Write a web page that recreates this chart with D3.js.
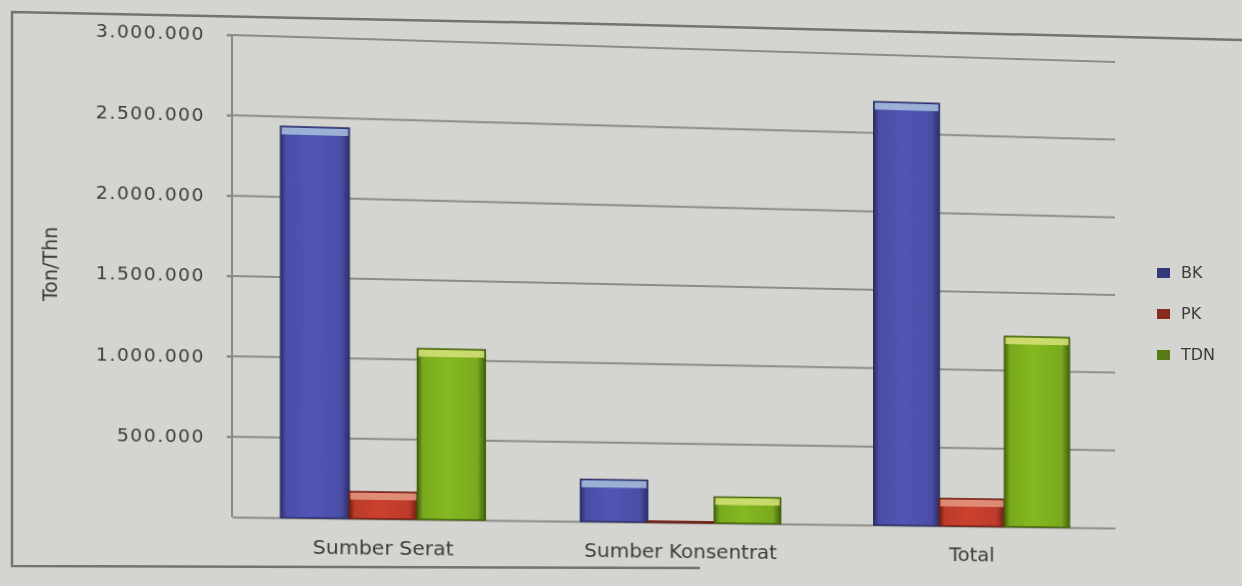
<!DOCTYPE html>
<html>
<head>
<meta charset="utf-8">
<script src="https://cdn.jsdelivr.net/npm/d3@7"></script>
<style>
  html, body { margin: 0; padding: 0; background: #d4d4d0; overflow: hidden; }
  #wrap { position: relative; width: 1242px; height: 586px; }
  #wrap svg { position: absolute; left: 0; top: 0; }
  text { font-family: "DejaVu Sans", Verdana, sans-serif; fill: #3c3c3c; }
</style>
</head>
<body>
<div id="wrap"></div>
<script>
// Produksi pakan: bahan kering (BK), protein kasar (PK), TDN per sumber pakan
const categories = ["Sumber Serat", "Sumber Konsentrat", "Total"];
const seriesNames = ["BK", "PK", "TDN"];
const bkValues = [2440000, 265000, 2700000];
const pkValues = [168000, 7000, 175000];
const tdnValues = [1070000, 165000, 1220000];
const yTicks = [500000, 1000000, 1500000, 2000000, 2500000, 3000000];
const yMax = 3000000;
const yTitle = "Ton/Thn";

const seriesColors = ["#4a4ea6", "#bb3b2a", "#79a91d"];
const capColors = ["#a9c2dc", "#e49a84", "#d8e27a"];
const edgeColors = ["#2c2f6a", "#6e1e14", "#44640c"];

const W = 1242, H = 586;
const plot = { left: 232, right: 1115, top: 35, bottom: 517 };

const wrap = d3.select("#wrap");
const svg = wrap.append("svg").attr("width", W).attr("height", H);
const overlay = wrap.append("svg").attr("width", W).attr("height", H);

const idFmt = d3.formatLocale({ decimal: ",", thousands: ".", grouping: [3], currency: ["Rp", ""] }).format(",d");

const x0 = d3.scaleBand().domain(categories).range([plot.left, plot.right]).paddingInner(0.32).paddingOuter(0.16);
const x1 = d3.scaleBand().domain(seriesNames).range([0, x0.bandwidth()]).padding(0);
const y = d3.scaleLinear().domain([0, yMax]).range([plot.bottom, plot.top]);

// gradients giving the bars their rounded, shaded look
const defs = svg.append("defs");
seriesNames.forEach((s, i) => {
  const g = defs.append("linearGradient").attr("id", "grad-" + s).attr("x1", 0).attr("x2", 1).attr("y1", 0).attr("y2", 0);
  const base = d3.color(seriesColors[i]);
  [[0, edgeColors[i]], [0.08, base.formatHex()], [0.45, base.brighter(0.25).formatHex()], [0.88, base.formatHex()], [1, edgeColors[i]]]
    .forEach(([o, c]) => g.append("stop").attr("offset", o).attr("stop-color", c));
});

// grid lines
svg.append("g")
  .selectAll("line").data(yTicks).join("line")
  .attr("x1", plot.left - 5).attr("x2", plot.right)
  .attr("y1", d => y(d)).attr("y2", d => y(d))
  .attr("stroke", "#8b8b88").attr("stroke-width", 2);

// y axis
const yAxis = svg.append("g").attr("transform", `translate(${plot.left},0)`)
  .call(d3.axisLeft(y).tickValues(yTicks).tickFormat(idFmt).tickSize(5).tickPadding(21));
yAxis.select(".domain").attr("stroke", "#8b8b88").attr("stroke-width", 2).attr("d", `M0,${plot.top}V${plot.bottom}`);
yAxis.selectAll(".tick line").attr("stroke", "#8b8b88").attr("stroke-width", 2);
yAxis.selectAll(".tick text").attr("font-size", 18).attr("fill", "#3c3c3c")
  .attr("font-family", "DejaVu Sans, Verdana, sans-serif").attr("letter-spacing", 1.5);

// x axis baseline and category labels
const xAxis = svg.append("g").attr("transform", `translate(0,${plot.bottom})`)
  .call(d3.axisBottom(x0).tickSize(0).tickPadding(22));
xAxis.select(".domain").attr("stroke", "#8b8b88").attr("stroke-width", 2);
xAxis.selectAll(".tick text").attr("font-size", 20).attr("fill", "#3c3c3c")
  .attr("font-family", "DejaVu Sans, Verdana, sans-serif");

// y axis title
svg.append("text")
  .attr("transform", `translate(64,${(plot.top + plot.bottom) / 2 - 8}) rotate(-90)`)
  .attr("text-anchor", "middle").attr("font-size", 19).text(yTitle);

// bars
const valuesBySeries = [bkValues, pkValues, tdnValues];
const rows = [];
categories.forEach((c, ci) => seriesNames.forEach((s, si) => rows.push({ cat: c, series: s, si, value: valuesBySeries[si][ci] })));

const bars = svg.append("g").selectAll("g").data(rows).join("g")
  .attr("transform", d => `translate(${x0(d.cat) + x1(d.series)},0)`);
bars.append("rect")
  .attr("x", 0).attr("width", x1.bandwidth())
  .attr("y", d => y(d.value)).attr("height", d => y(0) - y(d.value))
  .attr("fill", d => `url(#grad-${d.series})`)
  .attr("stroke", d => edgeColors[d.si]).attr("stroke-width", 1.5);
bars.append("rect")
  .attr("x", 1).attr("width", x1.bandwidth() - 2)
  .attr("y", d => y(d.value) + 1)
  .attr("height", d => Math.min(7, Math.max(0, y(0) - y(d.value) - 2)))
  .attr("fill", d => capColors[d.si]).attr("opacity", 0.85);

// the printed page is photographed at an angle: map the flat chart onto that quad
function homography(src, dst) {
  const A = [], b = [];
  for (let i = 0; i < 4; i++) {
    const [xs, ys] = src[i], [u, v] = dst[i];
    A.push([xs, ys, 1, 0, 0, 0, -xs * u, -ys * u]); b.push(u);
    A.push([0, 0, 0, xs, ys, 1, -xs * v, -ys * v]); b.push(v);
  }
  const n = 8;
  for (let c = 0; c < n; c++) {
    let p = c;
    for (let r = c + 1; r < n; r++) if (Math.abs(A[r][c]) > Math.abs(A[p][c])) p = r;
    [A[c], A[p]] = [A[p], A[c]]; [b[c], b[p]] = [b[p], b[c]];
    for (let r = 0; r < n; r++) {
      if (r === c) continue;
      const f = A[r][c] / A[c][c];
      for (let k = c; k < n; k++) A[r][k] -= f * A[c][k];
      b[r] -= f * b[c];
    }
  }
  return b.map((v, i) => v / A[i][i]);
}
const h = homography(
  [[plot.left, plot.top], [plot.right, plot.top], [plot.right, plot.bottom], [plot.left, plot.bottom]],
  [[plot.left, plot.top], [plot.right, 62], [plot.right, 528], [plot.left, plot.bottom]]
);
svg.style("transform-origin", "0 0")
  .style("transform", `matrix3d(${h[0]},${h[3]},0,${h[6]},${h[1]},${h[4]},0,${h[7]},0,0,1,0,${h[2]},${h[5]},0,1)`);

// page frame
overlay.append("path").attr("d", "M1242,40 L600,24 L12,12 L12,566 L700,568")
  .attr("fill", "none").attr("stroke", "#737370").attr("stroke-width", 2.5);

// legend
const legend = overlay.append("g").attr("transform", "translate(1157,268)");
const li = legend.selectAll("g").data(seriesNames).join("g")
  .attr("transform", (d, i) => `translate(0,${i * 41})`);
li.append("rect").attr("width", 13).attr("height", 10)
  .attr("fill", (d, i) => d3.color(seriesColors[i]).darker(0.9));
li.append("text").attr("x", 24).attr("y", 10).attr("font-size", 16).attr("fill", "#4a4a4a").text(d => d);
</script>
</body>
</html>
